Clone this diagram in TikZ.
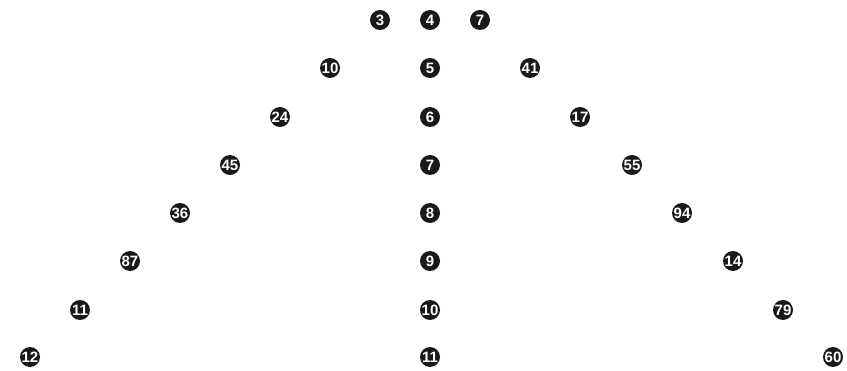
\documentclass[tikz,border=0pt]{standalone}
\usepackage{fontspec}
\setmainfont{Liberation Sans}
\begin{document}
\begin{tikzpicture}[x=1pt,y=-1pt,
  ball/.style={circle,fill=black!90,text=white,minimum size=20pt,inner sep=0pt,font=\bfseries\fontsize{15}{15}\selectfont}]
\useasboundingbox[fill=white] (0,0) rectangle (847,371);
% centre column
\node[ball] (c4) at (430,20) {4};
\node[ball] (c5) at (430,68) {5};
\node[ball] (c6) at (430,117) {6};
\node[ball] (c7) at (430,165) {7};
\node[ball] (c8) at (430,213) {8};
\node[ball] (c9) at (430,261) {9};
\node[ball] (c10) at (430,310) {10};
\node[ball] (c11) at (430,357) {11};
% left diagonal
\node[ball] (l1) at (380,20) {3};
\node[ball] (l2) at (330,68) {10};
\node[ball] (l3) at (280,117) {24};
\node[ball] (l4) at (230,165) {45};
\node[ball] (l5) at (180,213) {36};
\node[ball] (l6) at (130,261) {87};
\node[ball] (l7) at (80,310) {11};
\node[ball] (l8) at (30,357) {12};
% right diagonal
\node[ball] (r1) at (480,20) {7};
\node[ball] (r2) at (530,68) {41};
\node[ball] (r3) at (580,117) {17};
\node[ball] (r4) at (632,165) {55};
\node[ball] (r5) at (682,213) {94};
\node[ball] (r6) at (733,261) {14};
\node[ball] (r7) at (783,310) {79};
\node[ball] (r8) at (833,357) {60};
\end{tikzpicture}
\end{document}
